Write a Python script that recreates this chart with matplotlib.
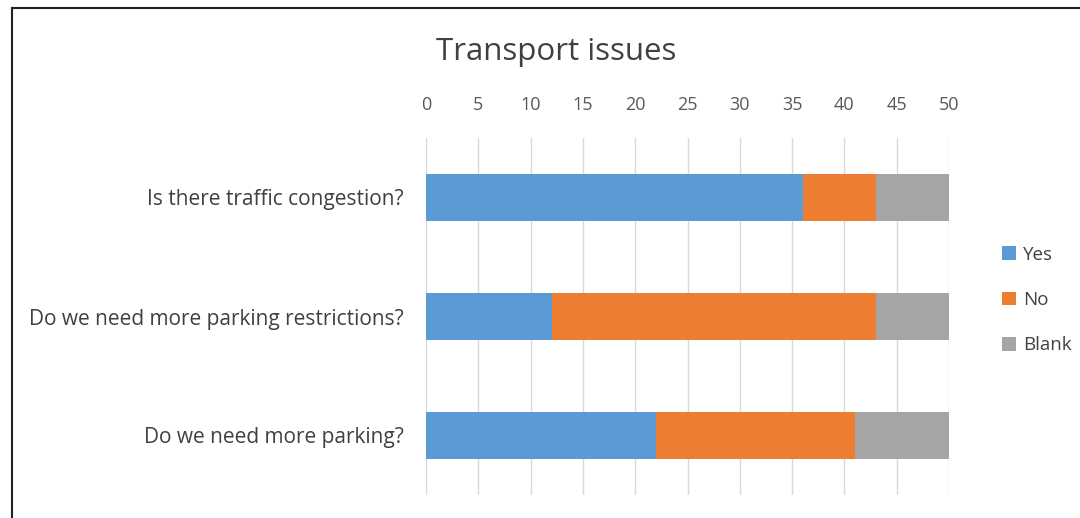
import matplotlib.pyplot as plt
from matplotlib.lines import Line2D
import numpy as np

plt.rcParams['font.family'] = ['Open Sans', 'DejaVu Sans']

# survey answers
questions = ["Is there traffic congestion?",
             "Do we need more parking restrictions?",
             "Do we need more parking?"]
yes = [36, 12, 22]
no = [7, 31, 19]
blank = [7, 7, 9]

series = ["Yes", "No", "Blank"]
colors = ["#5b9bd5", "#ed7d31", "#a5a5a5"]

fig = plt.figure(figsize=(10.8, 5.18), dpi=100)
ax = fig.add_axes([426 / 1080, 1 - 495 / 518, (949 - 426) / 1080, (495 - 138) / 518])

ypos = np.arange(len(questions))
left = np.zeros(len(questions))
for vals, name, col in zip([yes, no, blank], series, colors):
    ax.barh(ypos, vals, left=left, height=0.4, color=col, label=name, zorder=3)
    left += np.array(vals)

ax.set_xlim(0, 50)
ax.set_ylim(2.5, -0.5)
ax.set_xticks(np.arange(0, 51, 5))
ax.set_yticks(ypos)
ax.set_yticklabels(questions)
ax.xaxis.tick_top()
ax.tick_params(axis='x', length=0, pad=17, labelsize=13, labelcolor="#595959")
ax.tick_params(axis='y', length=0, pad=16, labelsize=15, labelcolor="#404040")
ax.grid(axis='x', color="#d9d9d9", linewidth=1, zorder=0)
for s in ax.spines.values():
    s.set_visible(False)

fig.text(556 / 1080, 1 - 52 / 518, "Transport issues", ha='center', va='center',
         fontsize=22.5, color="#404040")

ax.legend(loc='center left', bbox_to_anchor=(1002 / 1080, 1 - 300 / 518),
          bbox_transform=fig.transFigure, frameon=False, fontsize=13.5,
          borderpad=0, borderaxespad=0,
          handlelength=0.75, handleheight=0.75, handletextpad=0.37,
          labelspacing=1.45, labelcolor="#404040")

# frame of the cropped chart area
fig.add_artist(Line2D([12 / 1080, 12 / 1080], [0, 1 - 8 / 518], color="#222222", lw=1.5))
fig.add_artist(Line2D([12 / 1080, 1], [1 - 8 / 518, 1 - 8 / 518], color="#222222", lw=1.5))

fig.savefig("out.png", dpi=100)
